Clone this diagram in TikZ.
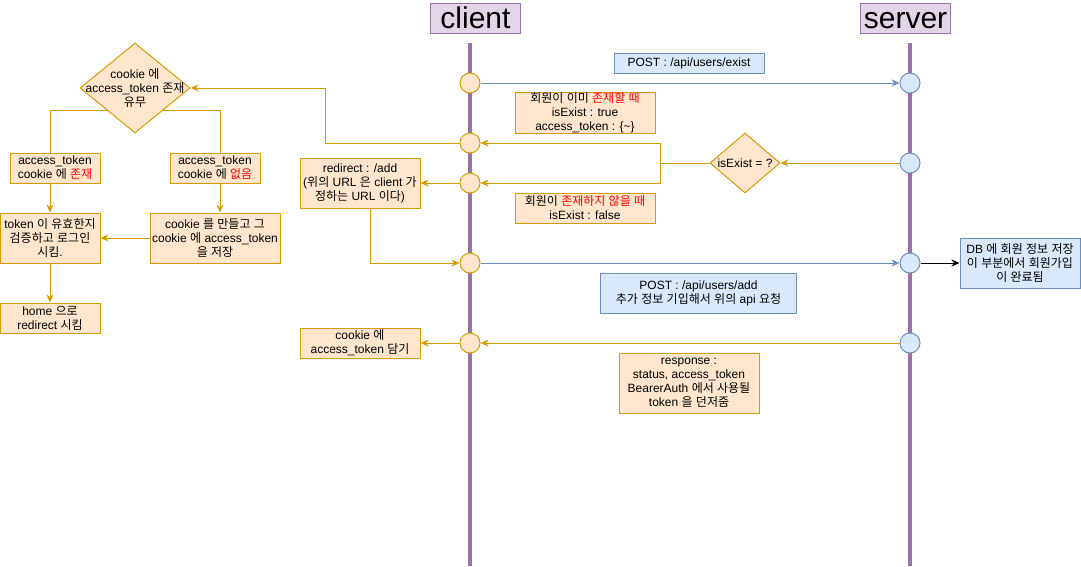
\documentclass[tikz,border=0pt]{standalone}
\usepackage{fontspec}
\setmainfont{Liberation Sans}
\newfontfamily\krfont{Noto Sans CJK KR}
\newfontfamily\latinfont{Liberation Sans}
\usetikzlibrary{arrows.meta,shapes.geometric}
\newXeTeXintercharclass\krclass
\newcount\kcnt
\kcnt="AC00
\loop\ifnum\kcnt<"D7A4 \XeTeXcharclass\kcnt=\krclass \advance\kcnt by 1 \repeat
\XeTeXinterchartoks 0 \krclass = {\krfont}
\XeTeXinterchartoks 4095 \krclass = {\krfont}
\XeTeXinterchartoks \krclass 0 = {\latinfont}
\XeTeXinterchartoks \krclass 4095 = {\latinfont}
\XeTeXinterchartokenstate=1
\definecolor{pfill}{HTML}{E1D5E7}
\definecolor{pline}{HTML}{9673A6}
\definecolor{ofill}{HTML}{FFE6CC}
\definecolor{oline}{HTML}{D79B00}
\definecolor{bfill}{HTML}{DAE8FC}
\definecolor{bline}{HTML}{6C8EBF}
\definecolor{kred}{HTML}{FF0000}
\tikzset{
  txt/.style={font=\fontsize{12}{14}\selectfont, align=center},
  obox/.style={txt, rectangle, draw=oline, fill=ofill, line width=1pt, inner sep=0pt},
  bbox/.style={txt, rectangle, draw=bline, fill=bfill, line width=1pt, inner sep=0pt},
  title/.style={rectangle, draw=pline, fill=pfill, line width=1pt, inner sep=0pt, minimum width=90pt, minimum height=30pt, text height=22pt, text depth=2pt, font=\fontsize{30}{32}\selectfont},
  life/.style={draw=pline, line width=4pt},
  ocirc/.style={circle, draw=oline, fill=ofill, line width=1pt, minimum size=20pt, inner sep=0pt},
  bcirc/.style={circle, draw=bline, fill=bfill, line width=1pt, minimum size=20pt, inner sep=0pt},
  dshape/.style={diamond, draw=oline, fill=ofill, line width=1pt, inner sep=0pt},
  tip/.style={-{Stealth[length=8pt,width=7pt,inset=2.5pt]}},
  oarr/.style={tip, draw=oline, line width=1pt},
  barr/.style={tip, draw=bline, line width=1pt},
  karr/.style={tip, draw=black, line width=1pt},
  oline/.style={draw=oline, line width=1pt},
}
\begin{document}
\begin{tikzpicture}[x=1pt,y=-1pt]
\useasboundingbox (0,0) rectangle (1081,566);
% lifelines
\coordinate (ct) at (470,43); \coordinate (cb) at (470,566);
\coordinate (st) at (910,43); \coordinate (sb) at (910,566);
\draw[life] (ct) -- (cb);
\draw[life] (st) -- (sb);
\node[title] (client) at (475.5,18) {client};
\node[title] (server) at (905.5,18) {server};
% circles
\node[ocirc] (c1) at (470,83) {};
\node[ocirc] (c2) at (470,143) {};
\node[ocirc] (c3) at (470,183) {};
\node[ocirc] (c4) at (470,263) {};
\node[ocirc] (c5) at (470,343) {};
\node[bcirc] (s1) at (910,83) {};
\node[bcirc] (s2) at (910,163) {};
\node[bcirc] (s3) at (910,263) {};
\node[bcirc] (s4) at (910,343) {};
% labels
\node[bbox, minimum width=150pt, minimum height=20pt] (lexist) at (689,63) {POST : /api/users/exist};
\node[obox, minimum width=140pt, minimum height=40pt] (yes) at (585,113) {회원이 이미 \textcolor{kred}{존재할 때}\\isExist : true\\access\_token : \{\textasciitilde\}};
\node[dshape, minimum width=70pt, minimum height=60pt] (dia) at (745,163) {};
\node[txt] (diat) at (dia) {isExist = ?};
\node[obox, minimum width=140pt, minimum height=30pt] (no) at (585,208) {회원이 \textcolor{kred}{존재하지 않을 때}\\isExist : false};
\node[obox, minimum width=120pt, minimum height=50pt] (redir) at (360,183) {redirect : /add\\(위의 URL 은 client 가\\정하는 URL 이다)};
\node[bbox, minimum width=196pt, minimum height=40pt] (ladd) at (698.5,293) {POST : /api/users/add\\추가 정보 기입해서 위의 api 요청};
\node[bbox, minimum width=120pt, minimum height=50pt] (db) at (1020,263) {DB 에 회원 정보 저장\\이 부분에서 회원가입\\이 완료됨};
\node[obox, minimum width=120pt, minimum height=30pt] (ck) at (360,343) {cookie 에\\access\_token 담기};
\node[obox, minimum width=140pt, minimum height=60pt] (resp) at (689,383) {response :\\status, access\_token\\BearerAuth 에서 사용될\\token 을 던저줌};
% left flowchart
\node[dshape, minimum width=110pt, minimum height=90pt] (cdia) at (135,88) {};
\node[txt] (cdiat) at (cdia) {cookie 에\\access\_token 존재\\유무};
\node[obox, minimum width=90pt, minimum height=30pt] (lb) at (55,168) {access\_token\\cookie 에 \textcolor{kred}{존재}};
\node[obox, minimum width=90pt, minimum height=30pt] (rb) at (215,168) {access\_token\\cookie 에 \textcolor{kred}{없음}};
\node[obox, minimum width=100pt, minimum height=50pt] (tok) at (50,238) {token 이 유효한지\\검증하고 로그인\\시킴.};
\node[obox, minimum width=130pt, minimum height=50pt] (mk) at (215,238) {cookie 를 만들고 그\\cookie 에 access\_token\\을 저장};
\node[obox, minimum width=100pt, minimum height=30pt] (home) at (50,318) {home 으로\\redirect 시킴};
% connectors
\draw[barr] (c1) -- (s1);
\draw[oarr] (s2) -- (dia.east);
\coordinate (j) at (660,163);
\draw[oline] (dia.west) -- (j);
\draw[oarr] (j) |- (c2);
\draw[oarr] (j) |- (c3);
\draw[oarr] (c3) -- (redir.east);
\draw[oarr] ([xshift=10pt]redir.south) |- (c4);
\draw[barr] (c4) -- (s3);
\draw[karr] (s3) -- (db.west);
\draw[oarr] (s4) -- (c5);
\draw[oarr] (c5) -- (ck.east);
\coordinate (k) at (325,88);
\draw[oarr] (c2.west) -| (k) -- (cdia.east);
\draw[oline] (cdia.south west) -| ([xshift=-5pt]lb.north);
\draw[oline] (cdia.south east) -| ([xshift=5pt]rb.north);
\draw[oarr] ([xshift=-5pt]lb.south) -- (tok.north);
\draw[oarr] ([xshift=5pt]rb.south) -- ([xshift=5pt]mk.north);
\draw[oarr] (mk.west) -- (tok.east);
\draw[oarr] (tok.south) -- (home.north);
\end{tikzpicture}
\end{document}
